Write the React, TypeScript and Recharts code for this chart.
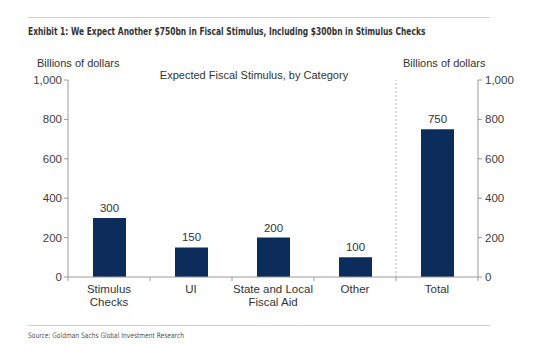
import { ComposedChart, Bar, Line, XAxis, YAxis, LabelList, ReferenceLine } from "recharts"

const categories = ["Stimulus\nChecks", "UI", "State and Local\nFiscal Aid", "Other", "Total"]
const stimulus = [300, 150, 200, 100, 750]
const yTicks = [0, 200, 400, 600, 800, 1000]

const data = categories.map((name, i) => ({ name, value: stimulus[i] }))

const FONT = "'Liberation Sans', Arial, sans-serif"
const AXIS = "#9a9a9a"
const TICK_SIZE = 4
const TICK_MARGIN = 4

const fmt = (v: number) => v.toLocaleString("en-US")

function CategoryTick(props: any) {
  const { x, y, payload, index, visibleTicksCount } = props
  const half = payload?.offset ?? 41
  const base = y - TICK_SIZE - TICK_MARGIN
  const lines = String(payload.value).split("\n")
  const last = index === (visibleTicksCount ?? categories.length) - 1
  return (
    <g>
      <line x1={x - half} x2={x - half} y1={base} y2={base + TICK_SIZE} stroke={AXIS} />
      {last && <line x1={x + half} x2={x + half} y1={base} y2={base + TICK_SIZE} stroke={AXIS} />}
      <text x={x} y={y} textAnchor="middle" fill="#333" fontSize={11.5} fontFamily={FONT}>
        {lines.map((l, i) => (
          <tspan key={i} x={x} dy={i === 0 ? "0.71em" : 13}>
            {l}
          </tspan>
        ))}
      </text>
    </g>
  )
}

function RightTick(props: any) {
  const { x, y, payload } = props
  return (
    <text x={x} y={y} dy="0.355em" textAnchor="start" fill="#404040" fontSize={11.5} fontFamily={FONT}>
      {fmt(payload.value)}
    </text>
  )
}

export default function App() {
  return (
    <div
      style={{
        position: "absolute",
        left: 0,
        top: 0,
        width: 554,
        height: 350,
        background: "#fff",
        fontFamily: FONT,
        overflow: "hidden",
      }}
    >
      <div style={{ position: "absolute", left: 28, top: 17, width: 462, borderTop: "1px solid #d0d0d0" }} />
      <div
        style={{
          position: "absolute",
          left: 28,
          top: 25,
          fontFamily: "'DejaVu Sans Condensed', 'DejaVu Sans', sans-serif",
          fontWeight: "bold",
          fontSize: 11,
          color: "#333",
          whiteSpace: "nowrap",
          transform: "scaleX(0.76)",
          transformOrigin: "left top",
        }}
      >
        Exhibit 1: We Expect Another $750bn in Fiscal Stimulus, Including $300bn in Stimulus Checks
      </div>
      <div style={{ position: "absolute", left: 37, top: 57, fontSize: 11, color: "#333", whiteSpace: "nowrap" }}>
        Billions of dollars
      </div>
      <div style={{ position: "absolute", left: 403, top: 57, fontSize: 11, color: "#333", whiteSpace: "nowrap" }}>
        Billions of dollars
      </div>
      <div
        style={{
          position: "absolute",
          left: 0,
          width: 508,
          textAlign: "center",
          top: 69,
          fontSize: 11,
          color: "#333",
          whiteSpace: "nowrap",
        }}
      >
        Expected Fiscal Stimulus, by Category
      </div>

      <div style={{ position: "absolute", left: 0, top: 0 }}>
        <ComposedChart width={554} height={350} data={data} margin={{ top: 80, right: 30, bottom: 33, left: 18 }}>
          <XAxis
            dataKey="name"
            interval={0}
            height={40}
            axisLine={{ stroke: AXIS }}
            tickLine={false}
            tickSize={TICK_SIZE}
            tickMargin={TICK_MARGIN}
            tick={<CategoryTick />}
          />
          <YAxis
            yAxisId="left"
            domain={[0, 1000]}
            ticks={yTicks}
            width={50}
            tickFormatter={fmt}
            axisLine={{ stroke: AXIS }}
            tickLine={{ stroke: AXIS }}
            tickSize={4}
            tick={{ fontSize: 11.5, fill: "#404040", fontFamily: FONT }}
          />
          <YAxis
            yAxisId="right"
            orientation="right"
            domain={[0, 1000]}
            ticks={yTicks}
            width={46}
            axisLine={{ stroke: AXIS }}
            tickLine={{ stroke: AXIS }}
            tickSize={4}
            tickMargin={3}
            tick={<RightTick />}
          />
          <ReferenceLine yAxisId="left" x="Total" position="start" stroke="#b5b5b5" strokeDasharray="2 2" />
          <Bar yAxisId="left" dataKey="value" fill="#0c2d5b" barSize={33} isAnimationActive={false}>
            <LabelList dataKey="value" position="top" offset={6} fill="#333" fontSize={11.5} fontFamily={FONT} />
          </Bar>
          {/* invisible series so the right axis gets its ticks */}
          <Line yAxisId="right" dataKey="value" stroke="none" dot={false} activeDot={false} isAnimationActive={false} />
        </ComposedChart>
      </div>

      <div style={{ position: "absolute", left: 28, top: 325, width: 462, borderTop: "1px solid #d0d0d0" }} />
      <div
        style={{
          position: "absolute",
          left: 28,
          top: 331,
          fontFamily: "'DejaVu Sans Condensed', 'DejaVu Sans', sans-serif",
          fontSize: 7.5,
          color: "#555",
          whiteSpace: "nowrap",
          transform: "scaleX(0.88)",
          transformOrigin: "left top",
        }}
      >
        Source: Goldman Sachs Global Investment Research
      </div>
    </div>
  )
}
